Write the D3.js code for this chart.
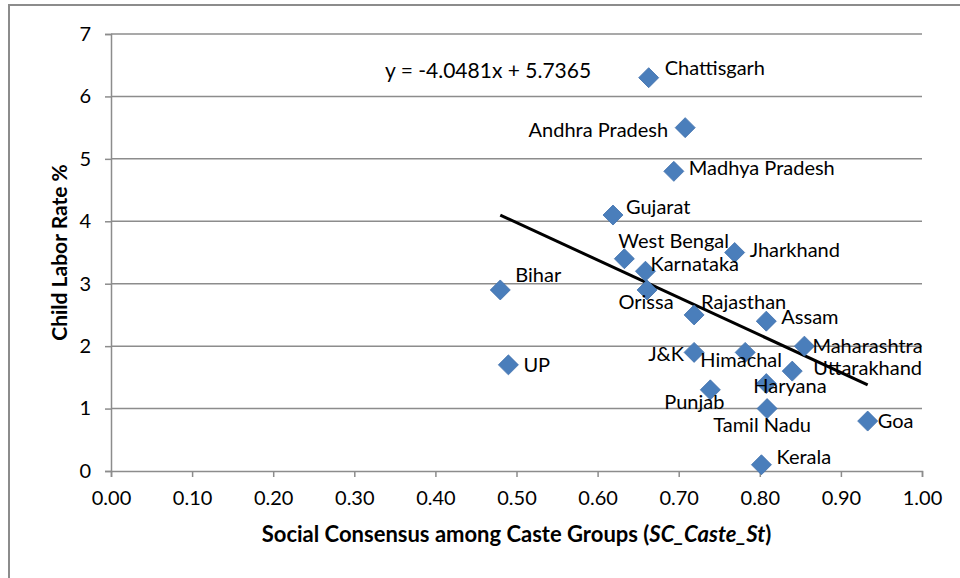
<!DOCTYPE html>
<html>
<head>
<meta charset="utf-8">
<script src="https://cdn.jsdelivr.net/npm/d3@7"></script>
<style>
  html, body { margin: 0; padding: 0; background: #fff; }
  svg { display: block; }
  text { font-family: Lato, "Open Sans", sans-serif; fill: #000; }
</style>
</head>
<body>
<svg id="chart" width="960" height="578"></svg>
<script>
// ---- data ----
const states = ["Chattisgarh","Andhra Pradesh","Madhya Pradesh","Gujarat","West Bengal","Jharkhand","Karnataka","Bihar","Orissa","Rajasthan","Assam","Maharashtra","J&K","Himachal","UP","Uttarakhand","Haryana","Punjab","Tamil Nadu","Goa","Kerala"];
const scCaste = [0.663,0.708,0.694,0.619,0.633,0.769,0.659,0.480,0.661,0.719,0.808,0.855,0.719,0.782,0.490,0.840,0.808,0.739,0.809,0.933,0.802];
const childLabor = [6.3,5.5,4.8,4.1,3.4,3.5,3.2,2.9,2.9,2.5,2.4,2.0,1.9,1.9,1.7,1.6,1.4,1.3,1.0,0.8,0.1];
const trendX = [0.48, 0.933];
const trendY = [4.10, 1.38];
const xTicks = [0,0.1,0.2,0.3,0.4,0.5,0.6,0.7,0.8,0.9,1.0];
const yTicks = [0,1,2,3,4,5,6,7];
const equationText = "y = -4.0481x + 5.7365";

// label placement (pixel offsets from marker, anchor)
const labelPlace = {
  "Chattisgarh": [16,-9,"start"],
  "Andhra Pradesh": [-17,3,"end"],
  "Madhya Pradesh": [15,-2,"start"],
  "Gujarat": [13,-7,"start"],
  "West Bengal": [-6,-17,"start"],
  "Jharkhand": [15,-2,"start"],
  "Karnataka": [5,-6,"start"],
  "Bihar": [15,-14,"start"],
  "Orissa": [-1,13,"middle"],
  "Rajasthan": [7,-12,"start"],
  "Assam": [15,-3,"start"],
  "Maharashtra": [8,1,"start"],
  "J&K": [-10,3,"end"],
  "Himachal": [-4,9,"middle"],
  "UP": [15,1,"start"],
  "Uttarakhand": [21,-2,"start"],
  "Haryana": [-13,3,"start"],
  "Punjab": [-16,13,"middle"],
  "Tamil Nadu": [-5,17,"middle"],
  "Goa": [10,1,"start"],
  "Kerala": [15,-7,"start"]
};

const svg = d3.select("#chart");
const L = 111, R = 922, T = 34, B = 471;
const FS = 20;
const x = d3.scaleLinear().domain([0,1]).range([L,R]);
const y = d3.scaleLinear().domain([0,7]).range([B,T]);

// outer frame
svg.append("rect").attr("x",9).attr("y",5).attr("width",1000).attr("height",1000)
  .attr("fill","none").attr("stroke","#8c8c8c").attr("stroke-width",2);

// gridlines
svg.append("g").selectAll("line").data(yTicks.filter(d=>d>0)).join("line")
  .attr("x1",L).attr("x2",R).attr("y1",d=>y(d)).attr("y2",d=>y(d))
  .attr("stroke","#8c8c8c").attr("stroke-width",1.5);

// y axis
const yAxis = svg.append("g").attr("transform",`translate(${L},0)`)
  .call(d3.axisLeft(y).tickValues(yTicks).tickSize(6).tickPadding(14).tickFormat(d3.format("d")));
yAxis.select(".domain").attr("stroke","#8c8c8c").attr("stroke-width",1.5);
yAxis.selectAll(".tick line").attr("stroke","#8c8c8c").attr("stroke-width",1.5);
yAxis.selectAll(".tick text").attr("font-size",FS).attr("font-family","Lato, sans-serif").attr("fill","#000");

// x axis
const xAxis = svg.append("g").attr("transform",`translate(0,${B})`)
  .call(d3.axisBottom(x).tickValues(xTicks).tickSize(6).tickPadding(14).tickFormat(d3.format(".2f")));
xAxis.select(".domain").attr("stroke","#8c8c8c").attr("stroke-width",1.5);
xAxis.selectAll(".tick line").attr("stroke","#8c8c8c").attr("stroke-width",1.5);
xAxis.selectAll(".tick text").attr("font-size",FS).attr("font-family","Lato, sans-serif").attr("fill","#000");

// trendline
svg.append("line")
  .attr("x1",x(trendX[0])).attr("y1",y(trendY[0]))
  .attr("x2",x(trendX[1])).attr("y2",y(trendY[1]))
  .attr("stroke","#000").attr("stroke-width",3);

// markers
const pts = states.map((s,i)=>({name:s, xv:scCaste[i], yv:childLabor[i]}));
const diamond = d3.symbol().type(d3.symbolSquare).size(200);
svg.append("g").selectAll("path").data(pts).join("path")
  .attr("d", diamond)
  .attr("transform", d=>`translate(${x(d.xv)},${y(d.yv)}) rotate(45)`)
  .attr("fill","#4A7EBB").attr("stroke","#4373AE").attr("stroke-width",0.8);

// labels
const LBL_SHIFT = -2;
svg.append("g").selectAll("text").data(pts).join("text")
  .attr("x", d=>x(d.xv)+labelPlace[d.name][0])
  .attr("y", d=>y(d.yv)+labelPlace[d.name][1]+LBL_SHIFT)
  .attr("text-anchor", d=>labelPlace[d.name][2])
  .attr("dominant-baseline","central")
  .attr("font-size",FS)
  .text(d=>d.name);

// equation
svg.append("text").attr("x",385).attr("y",69).attr("dominant-baseline","central")
  .attr("font-size",21).text(equationText);

// axis titles
svg.append("text").attr("transform",`translate(58,${(T+B)/2}) rotate(-90)`)
  .attr("text-anchor","middle").attr("dominant-baseline","central")
  .attr("font-size",21).attr("font-weight","bold").text("Child Labor Rate %");

const xt = svg.append("text").attr("x",(L+R)/2).attr("y",533).attr("text-anchor","middle")
  .attr("dominant-baseline","central").attr("font-size",22).attr("font-weight","bold");
xt.append("tspan").text("Social Consensus among Caste Groups (");
xt.append("tspan").attr("font-style","italic").text("SC_Caste_St");
xt.append("tspan").text(")");
</script>
</body>
</html>
